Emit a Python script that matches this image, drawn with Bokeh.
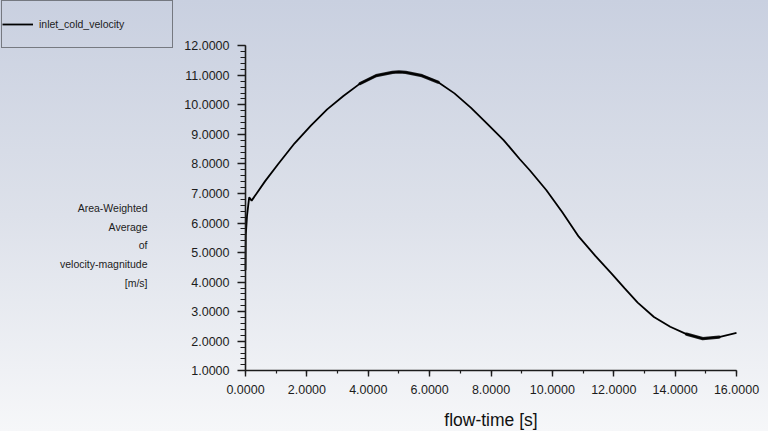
from bokeh.plotting import figure
from bokeh.models import (Range1d, Label, Legend, LegendItem, LinearAxis,
                          PrintfTickFormatter, SingleIntervalTicker)
from bokeh.embed import file_html
from bokeh.resources import INLINE

# ---- data ----
flow_time = [0.0, 0.01, 0.05, 0.12, 0.2, 0.64, 1.06, 1.6, 2.13, 2.66, 3.19,
             3.73, 4.26, 4.79, 5.0, 5.22, 5.75, 6.28, 6.81, 7.35, 7.88, 8.41,
             8.94, 9.27, 9.8, 10.33, 10.86, 11.4, 11.93, 12.35, 12.78, 13.31,
             13.84, 14.37, 14.9, 15.43, 16.0]
velocity = [4.4, 5.6, 6.25, 6.87, 6.76, 7.42, 7.99, 8.7, 9.3, 9.85, 10.3,
            10.72, 10.99, 11.1, 11.12, 11.1, 10.99, 10.77, 10.39, 9.9, 9.36,
            8.81, 8.16, 7.78, 7.12, 6.36, 5.54, 4.89, 4.29, 3.8, 3.31, 2.82,
            2.49, 2.24, 2.09, 2.14, 2.28]
# time windows where the monitored signal oscillates (drawn as a thicker trace)
noisy_windows = [(3.7, 6.3), (14.37, 15.43)]
series_name = "inlet_cold_velocity"
x_min, x_max, x_step = 0, 16, 2
y_min, y_max, y_step = 1, 12, 1
x_label = "flow-time [s]"
y_label_lines = ["Area-Weighted", "Average", "of", "velocity-magnitude", "[m/s]"]

# ---- layout (pixels inside the 768x431 canvas) ----
W, H = 768, 431
PX_LEFT, PX_RIGHT = 245.0, 736.0      # where x_min / x_max sit
PX_TOP, PX_BOTTOM = 45.3, 370.3       # where y_max / y_min sit
FONT = "Liberation Sans"
INK = "#1c1c1c"

ppx = (PX_RIGHT - PX_LEFT) / (x_max - x_min)
ppy = (PX_BOTTOM - PX_TOP) / (y_max - y_min)
x_range = Range1d(x_min - PX_LEFT / ppx, x_max + (W - PX_RIGHT) / ppx)
y_range = Range1d(y_min - (H - PX_BOTTOM) / ppy, y_max + PX_TOP / ppy)

p = figure(width=W, height=H, output_backend="svg", toolbar_location=None,
           x_range=x_range, y_range=y_range,
           x_axis_location=None, y_axis_location=None, min_border=0)

p.styles = {"background": "linear-gradient(to bottom, #c9d0e0 0%, #dde1ea 50%, #f6f7f9 100%)"}
p.background_fill_alpha = 0
p.border_fill_alpha = 0
p.outline_line_color = None
p.grid.visible = False

xaxis = LinearAxis(fixed_location=y_min, bounds=(x_min, x_max),
                   ticker=SingleIntervalTicker(interval=x_step, num_minor_ticks=2))
yaxis = LinearAxis(fixed_location=x_min, bounds=(y_min, y_max),
                   ticker=SingleIntervalTicker(interval=y_step, num_minor_ticks=5))
for ax in (xaxis, yaxis):
    ax.formatter = PrintfTickFormatter(format="%.4f")
    ax.axis_line_color = INK
    ax.axis_line_width = 1.6
    ax.major_tick_line_color = INK
    ax.minor_tick_line_color = INK
    ax.major_tick_line_width = 1.4
    ax.minor_tick_line_width = 1.2
    ax.major_tick_in = 0
    ax.minor_tick_in = 0
    ax.major_label_text_font = FONT
    ax.major_label_text_font_size = "12.5px"
    ax.major_label_text_color = INK

xaxis.major_tick_out = 6
xaxis.minor_tick_out = 3
xaxis.major_label_standoff = 8
yaxis.major_tick_out = 8
yaxis.minor_tick_out = 5
yaxis.major_label_standoff = 8

xaxis.axis_label = x_label
xaxis.axis_label_text_font = FONT
xaxis.axis_label_text_font_size = "17.5px"
xaxis.axis_label_text_font_style = "normal"
xaxis.axis_label_text_color = "#111111"
xaxis.axis_label_standoff = 13

p.add_layout(xaxis, "below")
p.add_layout(yaxis, "left")

r = p.line(flow_time, velocity, line_color="black", line_width=1.8)

for lo, hi in noisy_windows:
    sel = [i for i, t in enumerate(flow_time) if lo <= t <= hi]
    p.line([flow_time[i] for i in sel], [velocity[i] for i in sel],
           line_color="black", line_width=3.2, line_alpha=0.85, line_cap="round")

legend = Legend(items=[LegendItem(label=series_name, renderers=[r])],
                location=(1, H - 48), padding=0, margin=0, spacing=0,
                glyph_width=31, glyph_height=46, label_height=46,
                label_width=133, label_standoff=6,
                label_text_font=FONT, label_text_font_size="10.5px",
                label_text_color=INK,
                border_line_color="#202020", border_line_width=1.6,
                background_fill_alpha=0)
p.add_layout(legend)

for i, line in enumerate(y_label_lines):
    p.add_layout(Label(x=147, y=H - 207.3 - i * 18.8, x_units="screen", y_units="screen",
                       text=line, text_align="right", text_baseline="middle",
                       text_font=FONT, text_font_size="10.5px", text_color=INK))

open("out.html", "w").write(file_html(p, INLINE))
